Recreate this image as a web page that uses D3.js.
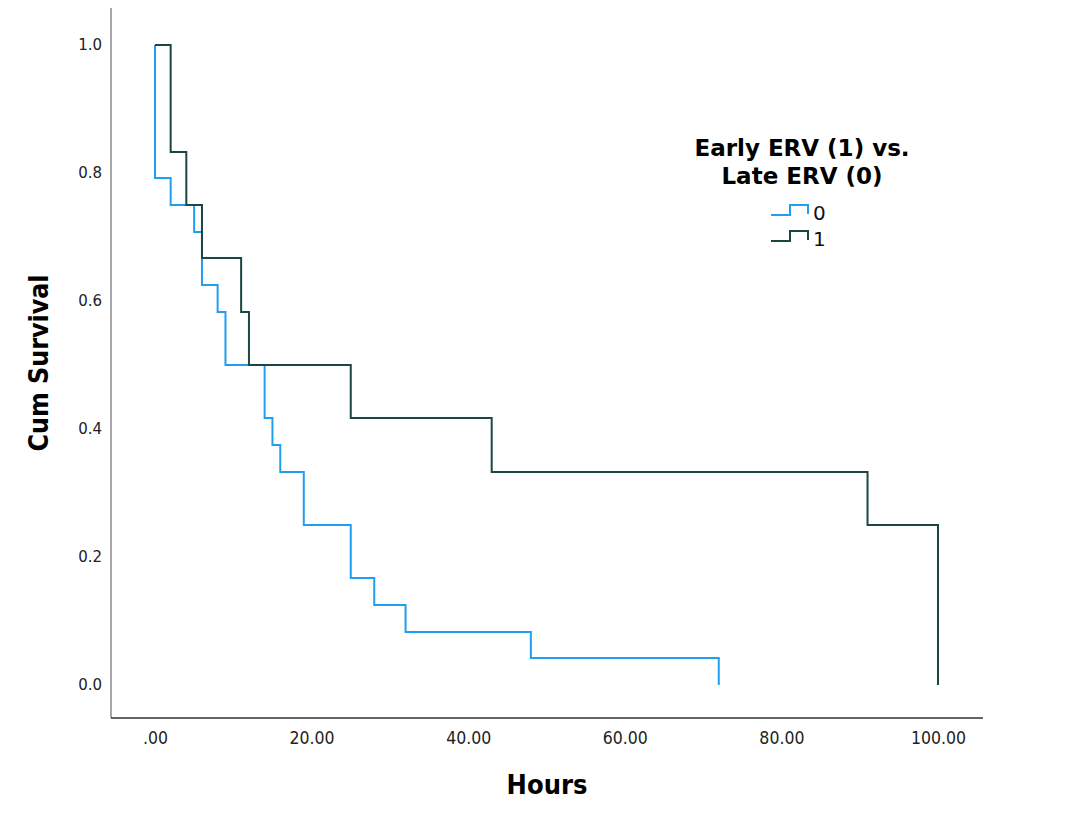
<!DOCTYPE html>
<html lang="en">
<head>
  <meta charset="UTF-8">
  <title>Cum Survival</title>
  <script src="https://cdn.jsdelivr.net/npm/d3@7/dist/d3.min.js"></script>
  <style>
    body { margin: 0; background: #fff; }
  </style>
</head>
<body>
  <script>
    // group 0 (Late ERV) and group 1 (Early ERV)
    const times0 = [0, 0, 2, 5, 6, 8, 9, 14, 15, 16, 19, 25, 28, 32, 48, 72]
    const surv0 = [1, 0.792, 0.75, 0.708, 0.625, 0.583, 0.5, 0.417, 0.375, 0.333, 0.25, 0.167, 0.125, 0.083, 0.042, 0]
    const times1 = [0, 2, 4, 6, 11, 12, 25, 43, 91, 100]
    const surv1 = [1, 0.833, 0.75, 0.667, 0.583, 0.5, 0.417, 0.333, 0.25, 0]

    const xTicks = [0, 20, 40, 60, 80, 100]
    const yTicks = [0, 0.2, 0.4, 0.6, 0.8, 1.0]
    const groups = ['0', '1']
    const colors = ['#1e9ff2', '#1b4644']

    const condensed = '"DejaVu Sans Condensed", "DejaVu Sans", sans-serif'
    const wide = '"DejaVu Sans", sans-serif'

    const width = 1080, height = 816

    const x = d3.scaleLinear().domain([0, 100]).range([155, 938])
    const y = d3.scaleLinear().domain([0, 1]).range([685, 45])

    const svg = d3.select('body')
      .append('svg')
      .attr('width', width)
      .attr('height', height)

    // axis lines
    svg.append('line')
      .attr('x1', 111).attr('x2', 111)
      .attr('y1', 8).attr('y2', 718)
      .attr('stroke', '#8a8a8a').attr('stroke-width', 1.5)
    svg.append('line')
      .attr('x1', 111).attr('x2', 983)
      .attr('y1', 718).attr('y2', 718)
      .attr('stroke', '#333').attr('stroke-width', 1.5)

    // y axis labels
    const yAxis = d3.axisLeft(y)
      .tickValues(yTicks)
      .tickSize(0)
      .tickPadding(0)
      .tickFormat(d3.format('.1f'))
    const gy = svg.append('g')
      .attr('transform', 'translate(102,0)')
      .call(yAxis)
    gy.select('.domain').remove()
    gy.selectAll('text')
      .style('font-family', wide)
      .style('font-size', '15px')
      .attr('fill', '#222')

    // x axis labels
    const xAxis = d3.axisBottom(x)
      .tickValues(xTicks)
      .tickSize(0)
      .tickPadding(0)
      .tickFormat(d => d === 0 ? '.00' : d.toFixed(2))
    const gx = svg.append('g')
      .attr('transform', 'translate(0,732)')
      .call(xAxis)
    gx.select('.domain').remove()
    gx.selectAll('text')
      .style('font-family', condensed)
      .style('font-size', '17.5px')
      .attr('fill', '#222')

    // axis titles
    svg.append('text')
      .attr('transform', 'translate(48,363) rotate(-90)')
      .attr('text-anchor', 'middle')
      .style('font-family', condensed)
      .style('font-size', '26.5px')
      .style('font-weight', 'bold')
      .text('Cum Survival')
    svg.append('text')
      .attr('x', 547).attr('y', 794)
      .attr('text-anchor', 'middle')
      .style('font-family', condensed)
      .style('font-size', '27px')
      .style('font-weight', 'bold')
      .text('Hours')

    // survival step curves
    const line = d3.line()
      .x(d => x(d[0]))
      .y(d => y(d[1]))
      .curve(d3.curveStepAfter)

    const series = [
      d3.zip(times0, surv0),
      d3.zip(times1, surv1)
    ]
    svg.selectAll('.curve')
      .data(series)
      .join('path')
      .attr('class', 'curve')
      .attr('d', line)
      .attr('fill', 'none')
      .attr('stroke', (d, i) => colors[i])
      .attr('stroke-width', 2)

    // legend
    const legend = svg.append('g')
    legend.selectAll('.title')
      .data(['Early ERV (1) vs.', 'Late ERV (0)'])
      .join('text')
      .attr('class', 'title')
      .attr('x', 802)
      .attr('y', (d, i) => 156 + i * 28)
      .attr('text-anchor', 'middle')
      .style('font-family', wide)
      .style('font-size', '23px')
      .style('font-weight', 'bold')
      .text(d => d)

    const item = legend.selectAll('.item')
      .data(groups)
      .join('g')
      .attr('class', 'item')
      .attr('transform', (d, i) => `translate(0,${215 + i * 26})`)
    item.append('path')
      .attr('d', 'M771,0H790V-10H808V-1')
      .attr('fill', 'none')
      .attr('stroke', (d, i) => colors[i])
      .attr('stroke-width', 2)
    item.append('text')
      .attr('x', 813).attr('y', 5)
      .style('font-family', wide)
      .style('font-size', '20px')
      .attr('fill', '#111')
      .text(d => d)
  </script>
</body>
</html>
